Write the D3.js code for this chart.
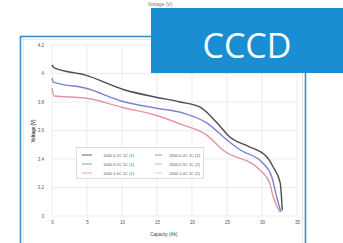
<!DOCTYPE html>
<html><head><meta charset="utf-8">
<script src="https://cdn.jsdelivr.net/npm/d3@7/dist/d3.min.js"></script>
<style>body{margin:0;background:#fff;}svg{display:block;}</style>
</head><body>
<script>
const xTicks = [0, 5, 10, 15, 20, 25, 30, 35];
const yTicks = [3, 3.2, 3.4, 3.6, 3.8, 4, 4.2];
const seriesNames = ["1000 0.2C 1C (1)", "1000 0.5C 1C (1)", "1000 1.0C 1C (1)"];
const seriesNames2 = ["2000 0.2C 1C (2)", "2000 0.5C 1C (2)", "2000 1.0C 1C (2)"];
const seriesColors = ["#3a3a3a", "#6f74d0", "#e08a99"];
const capBlack = [0, 0.3, 4.7, 10.4, 14.7, 18.3, 21.1, 23.6, 25.4, 28, 30.7, 31.6, 32.6, 32.9];
const voltBlack = [4.06, 4.04, 3.99, 3.884, 3.835, 3.80, 3.765, 3.653, 3.554, 3.49, 3.414, 3.344, 3.232, 3.04];
const capBlue = [0, 0.2, 4.7, 10.4, 14.7, 18.7, 22.1, 25, 26.9, 30.1, 31.4, 32.1, 32.7];
const voltBlue = [3.968, 3.94, 3.898, 3.80, 3.758, 3.723, 3.653, 3.533, 3.463, 3.372, 3.274, 3.133, 3.028];
const capRed = [0, 0.3, 4.7, 10.4, 14.7, 18.7, 22.1, 24.4, 29.7, 31.1, 31.6, 32.6];
const voltRed = [3.898, 3.842, 3.828, 3.758, 3.709, 3.639, 3.568, 3.463, 3.323, 3.232, 3.133, 3.028];

const W = 343, H = 243;
const svg = d3.select("body").append("svg").attr("width", W).attr("height", H);
const x = d3.scaleLinear().domain([0, 35]).range([52, 297]);
const y = d3.scaleLinear().domain([3, 4.2]).range([216, 45]);

// faint top text
svg.append("text").attr("x", 160).attr("y", 6).attr("text-anchor", "middle")
  .attr("font-family", "Liberation Sans, Arial").attr("font-size", 5).attr("fill", "#777").text("Voltage (V)");

// outer frame
svg.append("rect").attr("x", 20.5).attr("y", 36.5).attr("width", 285).attr("height", 220)
  .attr("fill", "none").attr("stroke", "#3d8cc4").attr("stroke-width", 1.6);
svg.append("rect").attr("x", 23.5).attr("y", 39.5).attr("width", 279).attr("height", 214)
  .attr("fill", "none").attr("stroke", "#d8e4ee").attr("stroke-width", 0.8);

// gridlines
const g = svg.append("g");
g.selectAll(".vx").data(xTicks).join("line")
  .attr("x1", d => x(d)).attr("x2", d => x(d)).attr("y1", 45).attr("y2", 216)
  .attr("stroke", "#e4e4e4").attr("stroke-width", 0.7);
g.selectAll(".hy").data(yTicks).join("line")
  .attr("x1", 52).attr("x2", 297).attr("y1", d => y(d)).attr("y2", d => y(d))
  .attr("stroke", "#e4e4e4").attr("stroke-width", 0.7);

// axes
const xAxis = d3.axisBottom(x).tickValues(xTicks).tickSize(0).tickPadding(5);
const yAxis = d3.axisLeft(y).tickValues(yTicks).tickSize(0).tickPadding(8).tickFormat(d3.format("~g"));
const gx = svg.append("g").attr("transform", "translate(0,216)").call(xAxis);
const gy = svg.append("g").attr("transform", "translate(52,0)").call(yAxis);
[gx, gy].forEach(a => {
  a.select(".domain").remove();
  a.selectAll("text").attr("font-family", "Liberation Sans, Arial").attr("font-size", 4.5).attr("fill", "#555");
});
svg.append("text").attr("x", 164).attr("y", 236).attr("text-anchor", "middle")
  .attr("font-family", "Liberation Sans, Arial").attr("font-size", 4.5).attr("fill", "#444").text("Capacity (Ah)");
svg.append("text").attr("transform", "translate(35,131) rotate(-90)").attr("text-anchor", "middle")
  .attr("font-family", "Liberation Sans, Arial").attr("font-size", 4.5).attr("font-weight", "bold").attr("fill", "#444").text("Voltage (V)");

// lines
const series = [
  {c: capBlack, v: voltBlack, col: seriesColors[0]},
  {c: capBlue, v: voltBlue, col: seriesColors[1]},
  {c: capRed, v: voltRed, col: seriesColors[2]}
];
const line = d3.line().x(d => x(d[0])).y(d => y(d[1])).curve(d3.curveMonotoneX);
series.forEach(s => {
  const pts = s.c.map((c, i) => [c, s.v[i]]);
  svg.append("path").attr("d", line(pts))
    .attr("fill", "none").attr("stroke", s.col).attr("stroke-width", 1.4).attr("opacity", 0.9);
});

// legend
const lg = svg.append("g");
lg.append("rect").attr("x", 76.5).attr("y", 147.5).attr("width", 127).attr("height", 31)
  .attr("fill", "#fff").attr("stroke", "#cfcfcf").attr("stroke-width", 0.7);
seriesNames.forEach((n, i) => {
  const yy = 155 + i * 9;
  lg.append("line").attr("x1", 82).attr("x2", 92).attr("y1", yy).attr("y2", yy).attr("stroke", seriesColors[i]).attr("stroke-width", 0.8);
  lg.append("text").attr("x", 134).attr("y", yy + 1.5).attr("text-anchor", "end")
    .attr("font-family", "Liberation Sans, Arial").attr("font-size", 4).attr("fill", "#555").text(n);
});
seriesNames2.forEach((n, i) => {
  const yy = 155 + i * 9;
  lg.append("line").attr("x1", 155).attr("x2", 162).attr("y1", yy).attr("y2", yy).attr("stroke", seriesColors[i]).attr("stroke-width", 0.8).attr("opacity", 0.6);
  lg.append("text").attr("x", 200).attr("y", yy + 1.5).attr("text-anchor", "end")
    .attr("font-family", "Liberation Sans, Arial").attr("font-size", 4).attr("fill", "#555").text(n);
});

// CCCD banner
svg.append("rect").attr("x", 151).attr("y", 8).attr("width", 192).attr("height", 65).attr("fill", "#1b8dd3");
svg.append("text").attr("x", 247).attr("y", 58).attr("text-anchor", "middle")
  .attr("font-family", "Open Sans, sans-serif").attr("font-size", 34).attr("fill", "#fff").text("CCCD");
</script>
</body></html>
